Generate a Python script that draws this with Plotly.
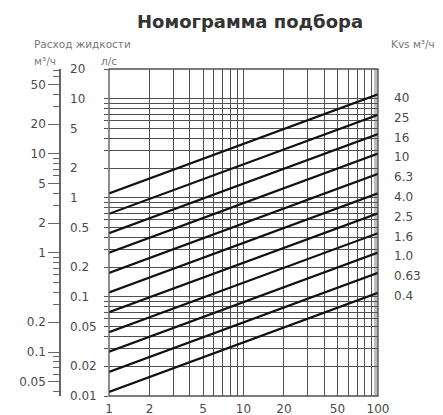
import numpy as np
import plotly.graph_objects as go

# ---------------- data ----------------
kvs_labels = ["40", "25", "16", "10", "6.3", "4.0", "2.5", "1.6", "1.0", "0.63", "0.4"]
dp_start = 1
dp_end = 100
q_start = [1.11, 0.69, 0.44, 0.28, 0.175, 0.111, 0.07, 0.044, 0.028, 0.0175, 0.011]  # л/с at dp=1
q_end = [11.1, 6.9, 4.4, 2.8, 1.75, 1.11, 0.70, 0.44, 0.28, 0.175, 0.11]              # л/с at dp=100

x_tick_vals = [1, 2, 5, 10, 20, 50, 100]
ls_tick_vals = [0.01, 0.02, 0.05, 0.1, 0.2, 0.5, 1, 2, 5, 10, 20]
ls_tick_text = ["0.01", "0.02", "0.05", "0.1", "0.2", "0.5", "1", "2", "5", "10", "20"]
m3h_tick_vals = [0.05, 0.1, 0.2, 1, 2, 5, 10, 20, 50]
m3h_tick_text = ["0.05", "0.1", "0.2", "1", "2", "5", "10", "20", "50"]

ls_range = [0.01, 20]
m3h_per_ls = 3.6

# grid / minor positions (axis configuration)
x_grid = [m * 10 ** e for e in (0, 1) for m in range(1, 10)] + [100]
y_grid = [m * 10.0 ** e for e in (-2, -1, 0, 1) for m in range(1, 10) if m * 10.0 ** e <= 20] + [20]
m3h_lo, m3h_hi = ls_range[0] * m3h_per_ls, ls_range[1] * m3h_per_ls
m3h_minor = [m * 10.0 ** e for e in (-2, -1, 0, 1) for m in range(1, 10)
             if m3h_lo <= m * 10.0 ** e <= m3h_hi]

# page body has an 8px default margin: work in window pixels, convert to figure pixels
OFF = 8
WIN_W, WIN_H = 443, 415
W, H = WIN_W - OFF, WIN_H - OFF
L_PX, R_PX, T_PX, B_PX = 109, 378, 69, 396   # window pixels of plot area
FONT = "DejaVu Sans"
GRID = "#505050"
TXT = "#4a4a4a"


def fx(px):
    return (px - OFF) / W


def fy(py):
    return (B_PX - py) / (B_PX - T_PX)


fig = go.Figure()

for i, lab in enumerate(kvs_labels):
    fig.add_trace(go.Scatter(
        x=[dp_start, dp_end], y=[q_start[i], q_end[i]],
        mode="lines", line=dict(color="#111111", width=2.2),
        showlegend=False, hoverinfo="skip", name=lab))

# dummy traces so overlay axes are drawn
fig.add_trace(go.Scatter(x=[None], y=[None], yaxis="y2", showlegend=False))
fig.add_trace(go.Scatter(x=[None], y=[None], yaxis="y3", showlegend=False))

x_text = [str(v) if v in x_tick_vals else "" for v in x_grid]

fig.update_layout(
    width=W, height=H,
    margin=dict(l=0, r=0, t=T_PX - OFF, b=WIN_H - B_PX, autoexpand=False),
    paper_bgcolor="white", plot_bgcolor="white",
    font=dict(family=FONT, color=TXT),
    xaxis=dict(
        type="log", range=[np.log10(dp_start), np.log10(dp_end)],
        domain=[fx(L_PX), fx(R_PX)],
        tickmode="array", tickvals=x_grid, ticktext=x_text,
        ticks="", showgrid=True, gridcolor=GRID, gridwidth=1.2,
        zeroline=False, showline=False, ticklabelstandoff=4,
        tickfont=dict(family=FONT, size=12, color=TXT),
        automargin=False,
    ),
    yaxis=dict(
        type="log", range=[np.log10(ls_range[0]), np.log10(ls_range[1])],
        tickmode="array", tickvals=y_grid, showticklabels=False,
        ticks="outside", ticklen=4, tickcolor=GRID,
        showgrid=True, gridcolor=GRID, gridwidth=1.2,
        zeroline=False, showline=False, automargin=False,
    ),
    yaxis2=dict(
        type="log", range=[np.log10(m3h_lo), np.log10(m3h_hi)],
        overlaying="y", anchor="free", position=fx(60), side="left",
        tickmode="array", tickvals=m3h_tick_vals, ticktext=m3h_tick_text,
        ticks="outside", ticklen=11, tickcolor="#666", tickwidth=1.2,
        minor=dict(tickmode="array", tickvals=m3h_minor, ticks="outside",
                   ticklen=6, tickcolor="#666", showgrid=False),
        showline=True, linecolor="#666", linewidth=1.5,
        showgrid=False, zeroline=False, automargin=False,
        tickfont=dict(family=FONT, size=12, color=TXT),
    ),
    yaxis3=dict(
        type="log", range=[np.log10(ls_range[0]), np.log10(ls_range[1])],
        overlaying="y", anchor="free", position=fx(69), side="right",
        tickmode="array", tickvals=ls_tick_vals, ticktext=ls_tick_text,
        ticks="", showline=False, showgrid=False, zeroline=False,
        automargin=False,
        tickfont=dict(family=FONT, size=12, color=TXT),
    ),
)

# frame
fig.add_shape(type="rect", xref="x domain", yref="y domain", x0=0, x1=1, y0=0, y1=1,
              line=dict(color=GRID, width=1.3), layer="above")
fig.add_shape(type="rect", xref="x domain", yref="y domain",
              x0=(374 - L_PX) / (R_PX - L_PX), x1=1, y0=0, y1=1,
              line=dict(width=0), fillcolor="#bdbdbd", layer="below")

# Kvs labels
for i, lab in enumerate(kvs_labels):
    fig.add_annotation(text=lab, xref="paper", x=fx(392), xanchor="left",
                       yref="y", y=np.log10(q_end[i]), yshift=-3.5, yanchor="middle",
                       showarrow=False, font=dict(family=FONT, size=12, color=TXT))

# header texts
fig.add_annotation(text="<b>Номограмма подбора</b>", xref="paper", yref="paper",
                   x=fx(250), y=fy(21), xanchor="center", yanchor="middle", showarrow=False,
                   font=dict(family=FONT, size=18, color="#333333"))
small = dict(family=FONT, size=10.5, color="#777777")
fig.add_annotation(text="Расход жидкости", xref="paper", yref="paper",
                   x=fx(32), y=fy(44), xanchor="left", yanchor="middle", showarrow=False, font=small)
fig.add_annotation(text="м³/ч", xref="paper", yref="paper",
                   x=fx(32), y=fy(61), xanchor="left", yanchor="middle", showarrow=False, font=small)
fig.add_annotation(text="л/с", xref="paper", yref="paper",
                   x=fx(99), y=fy(61), xanchor="left", yanchor="middle", showarrow=False, font=small)
fig.add_annotation(text="Kvs м³/ч", xref="paper", yref="paper",
                   x=fx(389), y=fy(44), xanchor="left", yanchor="middle", showarrow=False, font=small)

fig.write_html("out.html")
